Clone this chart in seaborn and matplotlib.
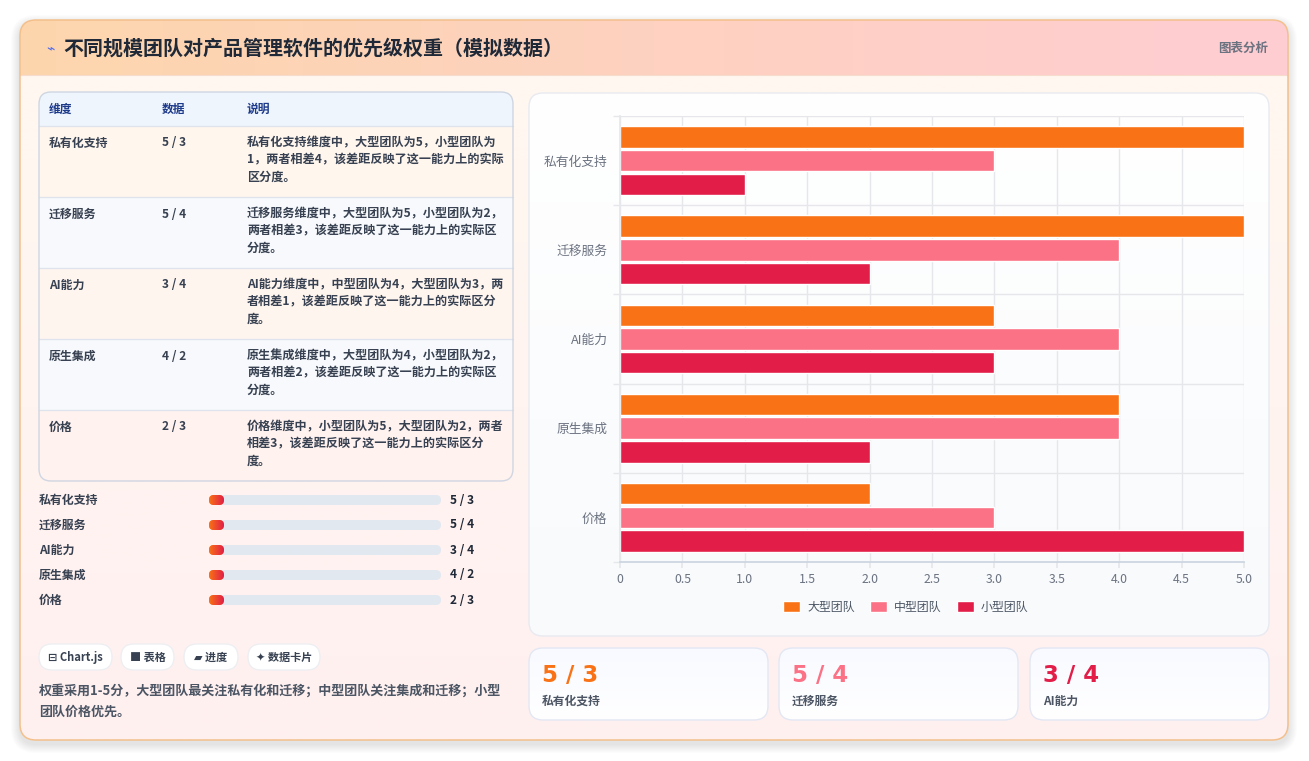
import matplotlib.pyplot as plt
import seaborn as sns
import numpy as np
import pandas as pd
from matplotlib.patches import FancyBboxPatch, Rectangle
from matplotlib.colors import to_rgb

# data
dims = ["私有化支持", "迁移服务", "AI能力", "原生集成", "价格"]
teams = ["大型团队", "中型团队", "小型团队"]
large = [5, 5, 3, 4, 2]
medium = [3, 4, 4, 4, 3]
small = [1, 2, 3, 2, 5]
pair_text = ["5 / 3", "5 / 4", "3 / 4", "4 / 2", "2 / 3"]
notes = [
    ["私有化支持维度中，大型团队为5，小型团队为", "1，两者相差4，该差距反映了这一能力上的实际", "区分度。"],
    ["迁移服务维度中，大型团队为5，小型团队为2，", "两者相差3，该差距反映了这一能力上的实际区", "分度。"],
    ["AI能力维度中，中型团队为4，大型团队为3，两", "者相差1，该差距反映了这一能力上的实际区分", "度。"],
    ["原生集成维度中，大型团队为4，小型团队为2，", "两者相差2，该差距反映了这一能力上的实际区", "分度。"],
    ["价格维度中，小型团队为5，大型团队为2，两者", "相差3，该差距反映了这一能力上的实际区分", "度。"],
]
chips = ["⊟ Chart.js", "■ 表格", "▰ 进度", "✦ 数据卡片"]
footer = ["权重采用1-5分，大型团队最关注私有化和迁移；中型团队关注集成和迁移；小型", "团队价格优先。"]
team_colors = ["#f97316", "#fb7185", "#e11d48"]

sns.set_theme(style="white")
plt.rcParams["font.family"] = ["Noto Sans CJK SC", "DejaVu Sans"]

W, H = 1309, 761
fig = plt.figure(figsize=(W / 100, H / 100), dpi=100)
fig.patch.set_facecolor("white")
bg = fig.add_axes([0, 0, 1, 1])
bg.axis("off")


def rbox(x, y, w, h, r, fc="white", ec="none", lw=1.0, z=1, alpha=1.0):
    p = FancyBboxPatch((x, y), w, h, boxstyle=f"round,pad=0,rounding_size={r}",
                       fc=fc, ec=ec, lw=lw, zorder=z, alpha=alpha)
    bg.add_patch(p)
    return p


def grad(x0, y0, x1, y1, c0, c1, vertical=False, clip=None, z=1):
    t = np.linspace(0, 1, 256)[:, None]
    cols = np.array(to_rgb(c0)) * (1 - t) + np.array(to_rgb(c1)) * t
    img = cols[:, None, :] if vertical else cols[None, :, :]
    im = bg.imshow(img, extent=(x0, x1, y1, y0), aspect="auto", zorder=z,
                   interpolation="bilinear")
    if clip is not None:
        im.set_clip_path(clip)
    return im


def txt(x, y, s, size=9, color="#374151", weight="bold", ha="left", z=10, **kw):
    bg.text(x, y, s, fontsize=size, color=color, fontweight=weight, ha=ha,
            va="center", zorder=z, **kw)


# shadow + card
for k in range(1, 10):
    rbox(20 - k, 24 - k, 1268 + 2 * k, 720 + 2 * k, 16 + k, fc="black", z=0.5, alpha=0.01)
card = rbox(20, 20, 1268, 720, 16, fc="#fff7f1", z=1)
grad(20, 75, 1288, 740, "#fff8f0", "#fff0f0", vertical=True, clip=card, z=1.1)
grad(20, 20, 1288, 75, "#fdd6ad", "#ffcdd3", clip=card, z=1.2)
bg.plot([20, 1288], [75, 75], color="#f6dccc", lw=0.8, zorder=1.3)
rbox(20, 20, 1268, 720, 16, fc="none", ec="#f3c08c", lw=1.1, z=1.4)

txt(46, 48, "⌁", size=10, color="#4f6bed", weight="normal")
txt(63, 48, "不同规模团队对产品管理软件的优先级权重（模拟数据）", size=14.4, color="#1f2937")
txt(1268, 48, "图表分析", size=9, color="#6b7280", ha="right")

# table
tb = rbox(39, 92, 474, 389, 12, fc="#fff7ef", z=2)
row_fill = ["#fff6ee", "#f7f9fc", "#fff5ef", "#f7f9fc", "#fff2ef"]
r = Rectangle((39, 92), 474, 34, fc="#eef5fd", ec="none", zorder=2.1)
bg.add_patch(r)
r.set_clip_path(tb)
for i in range(5):
    r = Rectangle((39, 126 + 71 * i), 474, 71, fc=row_fill[i], ec="none", zorder=2.1)
    bg.add_patch(r)
    r.set_clip_path(tb)
    bg.plot([39, 513], [126 + 71 * i, 126 + 71 * i], color="#dfe4ec", lw=0.9, zorder=2.2)
rbox(39, 92, 474, 389, 12, fc="none", ec="#cfd6e2", lw=1.0, z=2.3)
for x, s in zip([49, 162, 247], ["维度", "数据", "说明"]):
    txt(x, 109, s, size=8.5, color="#1e3a8a")
for i in range(5):
    y = 143 + 71 * i
    txt(49, y, dims[i], size=8.6)
    txt(162, y, pair_text[i], size=8.6)
    for j, line in enumerate(notes[i]):
        txt(247, y + 17 * j, line, size=8.7)

# progress rows
for i in range(5):
    y = 500 + 25 * i
    txt(39, y, dims[i], size=8.6)
    rbox(209, y - 5, 232, 10, 5, fc="#e2e8f0", z=2)
    pb = rbox(209, y - 5, 15, 10, 5, fc="#f97316", z=2.1)
    grad(209, y - 5, 224, y + 5, "#f97316", "#e11d48", clip=pb, z=2.2)
    txt(450, y, pair_text[i], size=8.6, color="#1f2937")

# chips
chip_x = [(39, 112), (121, 174), (184, 238), (248, 320)]
for (x0, x1), s in zip(chip_x, chips):
    rbox(x0, 644, x1 - x0, 26, 13, fc="#ffffff", ec="#eceef2", lw=0.9, z=2)
    txt((x0 + x1) / 2, 657, s, size=8, color="#374151", ha="center")
for j, line in enumerate(footer):
    txt(39, 691 + 21 * j, line, size=9.4, color="#4b5563")

# chart panel
pp = rbox(529, 93, 740, 543, 14, fc="white", z=2)
grad(529, 93, 1269, 636, "#ffffff", "#f8fafc", vertical=True, clip=pp, z=2.1)
rbox(529, 93, 740, 543, 14, fc="none", ec="#e8eaf0", lw=1.0, z=2.2)

# cards
card_x = [529, 779, 1030]
for i, x0 in enumerate(card_x):
    cp = rbox(x0, 648, 239, 72, 14, fc="#ffffff", z=2)
    grad(x0, 648, x0 + 239, 720, "#f8faff", "#ffffff", vertical=True, clip=cp, z=2.1)
    rbox(x0, 648, 239, 72, 14, fc="none", ec="#e3e7f3", lw=1.0, z=2.2)
    txt(x0 + 13, 675, pair_text[i], size=16.5, color=team_colors[i], family=["DejaVu Sans"])
    txt(x0 + 13, 701, dims[i], size=8.5, color="#4b5563")

bg.set_xlim(0, W)
bg.set_ylim(H, 0)

# bar chart
ax = fig.add_axes([620 / W, 1 - 562 / H, 624 / W, 446 / H])
ax.set_zorder(5)
ax.patch.set_alpha(0)
df = pd.DataFrame({
    "维度": dims * 3,
    "团队": np.repeat(teams, len(dims)),
    "权重": large + medium + small,
})
sns.barplot(data=df, y="维度", x="权重", hue="团队", palette=team_colors,
            orient="h", width=0.8, gap=0.1, saturation=1, ax=ax, errorbar=None)
ax.set_xlim(0, 5)
ax.set_ylim(4.5, -0.5)
xt = np.arange(0, 5.01, 0.5)
ax.set_xticks(xt)
ax.set_xticklabels(["0"] + [f"{v:.1f}" for v in xt[1:]])
ax.set_yticks(np.arange(-0.5, 5, 1), minor=True)
ax.grid(axis="x", which="major", color="#e5e7eb", lw=1)
ax.grid(axis="y", which="minor", color="#e5e7eb", lw=1)
ax.set_axisbelow(True)
ax.tick_params(axis="y", which="major", length=0, pad=9, labelsize=9.2, labelcolor="#6b7280")
ax.tick_params(axis="y", which="minor", length=5, color="#e5e7eb", left=True)
ax.tick_params(axis="x", length=4, color="#e5e7eb", labelsize=8.8, labelcolor="#6b7280", pad=4, bottom=True)
for s in ["top", "right"]:
    ax.spines[s].set_visible(False)
ax.spines["left"].set_color("#e5e7eb")
ax.spines["bottom"].set_color("#cbd5e1")
ax.set_xlabel("")
ax.set_ylabel("")
handles, labels = ax.get_legend_handles_labels()
ax.legend(handles, labels, loc="center", bbox_to_anchor=(906 / W, 1 - 607 / H),
          bbox_transform=fig.transFigure, ncol=3, frameon=False, fontsize=8.6,
          handlelength=1.4, handleheight=1.0, handletextpad=0.6, columnspacing=1.3,
          labelcolor="#4b5563")

fig.savefig("out.png", dpi=100)
